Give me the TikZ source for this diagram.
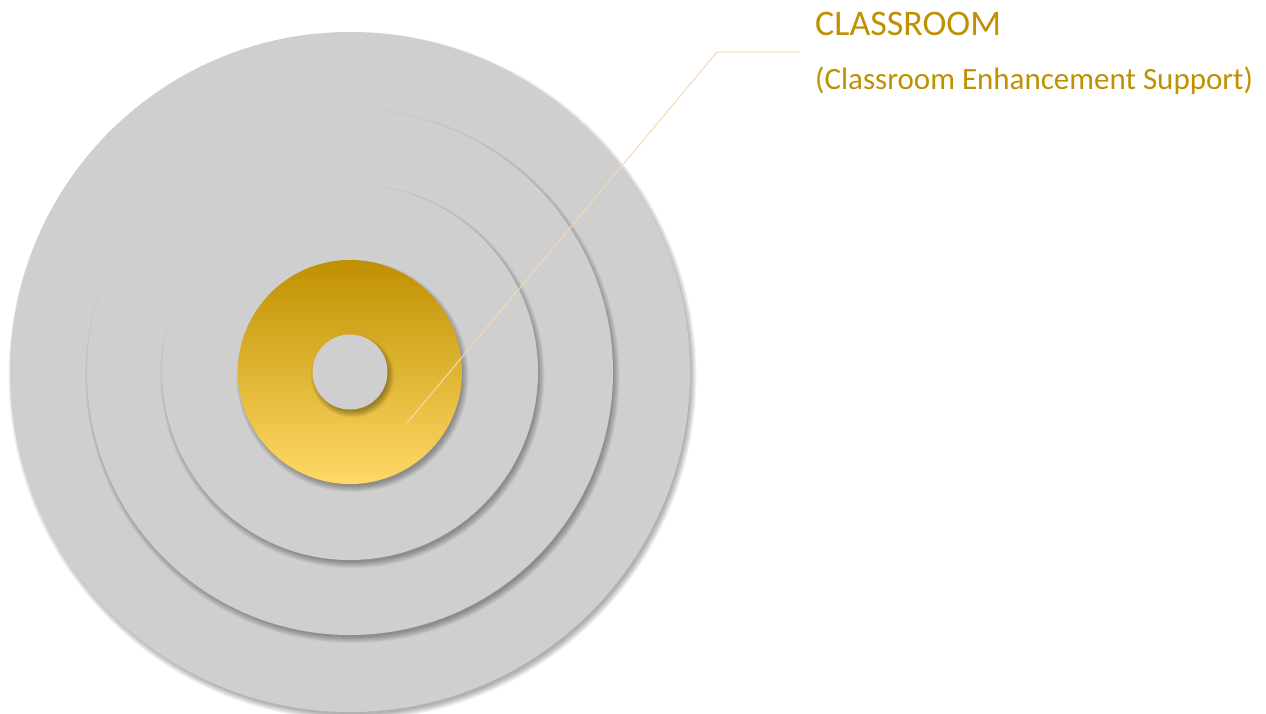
\documentclass[tikz,border=0pt]{standalone}
\usepackage{fontspec}
\setmainfont{Carlito}
\definecolor{ringgrey}{HTML}{CFCFCF}
\definecolor{goldtop}{HTML}{BF9000}
\definecolor{goldbot}{HTML}{FFD966}
\definecolor{labelgold}{HTML}{BF9000}
\definecolor{leader}{HTML}{F6D9B0}
\tikzset{
  disc/.style={fill=ringgrey, draw=none},
  labeltext/.style={text=labelgold, inner sep=0pt, anchor=base west},
  leaderline/.style={draw=leader, line width=1pt},
}
\newcommand{\softshadow}[2]{%
  \foreach \k in {0,...,6} {
    \fill[black, opacity=0.05] ($(#1)+(2.5pt,-4pt)$) circle[radius=#2+4pt-\k pt];
  }%
}
\usetikzlibrary{calc}
\begin{document}
\begin{tikzpicture}[x=1pt,y=-1pt]
\useasboundingbox (0,0) rectangle (1266,713);
\coordinate (c) at (350,372);
% outer
\softshadow{c}{340pt}
\fill[disc] (c) circle[radius=340pt];
\softshadow{c}{263pt}
\fill[disc] (c) circle[radius=263pt];
\softshadow{c}{188pt}
\fill[disc] (c) circle[radius=188pt];
\softshadow{c}{112pt}
\shade[top color=goldtop, bottom color=goldbot] (c) circle[radius=112pt];
\softshadow{c}{37.5pt}
\fill[disc] (c) circle[radius=37.5pt];
% leader line
\coordinate (p0) at (407,423);
\coordinate (p1) at (717,52);
\coordinate (p2) at (800,52);
\draw[leaderline] (p0) -- (p1) -- (p2);
% labels
\node[labeltext, font=\fontsize{36}{42}\selectfont] (t1) at (815,35) {CLASSROOM};
\node[labeltext, font=\fontsize{31}{37}\selectfont] (t2) at (815,89) {(Classroom Enhancement Support)};
\end{tikzpicture}
\end{document}
